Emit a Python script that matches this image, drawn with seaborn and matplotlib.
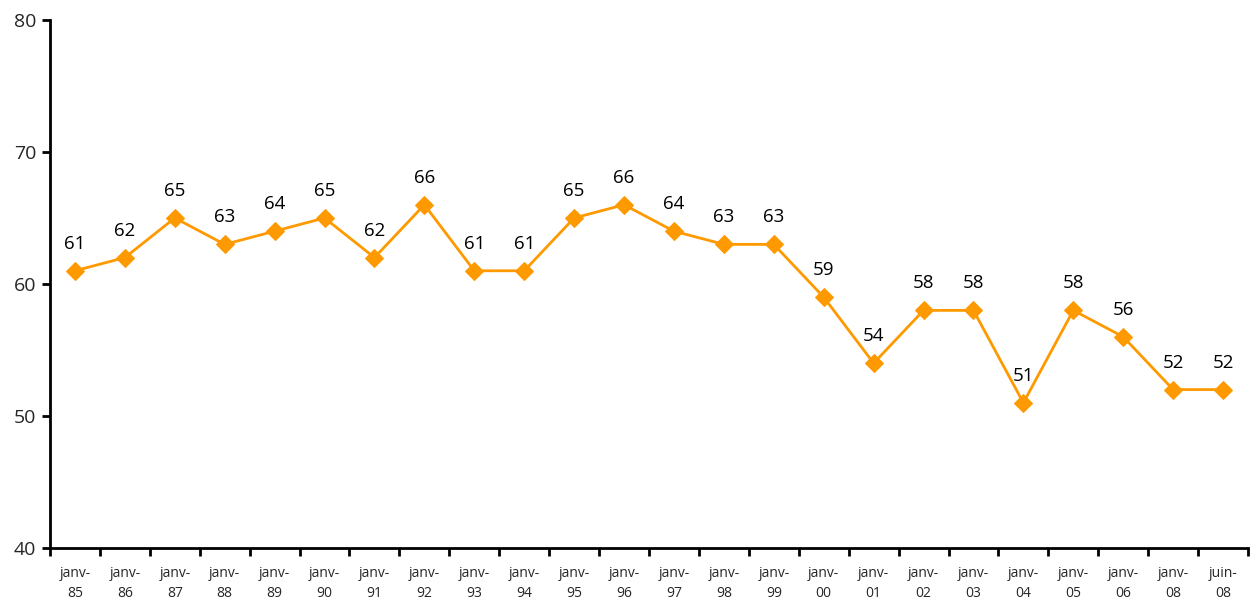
import matplotlib
matplotlib.use("Agg")
import matplotlib.pyplot as plt
import seaborn as sns
import pandas as pd
import numpy as np
from matplotlib.ticker import FixedLocator

labels = ["janv-\n85", "janv-\n86", "janv-\n87", "janv-\n88", "janv-\n89", "janv-\n90",
          "janv-\n91", "janv-\n92", "janv-\n93", "janv-\n94", "janv-\n95", "janv-\n96",
          "janv-\n97", "janv-\n98", "janv-\n99", "janv-\n00", "janv-\n01", "janv-\n02",
          "janv-\n03", "janv-\n04", "janv-\n05", "janv-\n06", "janv-\n08", "juin-\n08"]
values = [61, 62, 65, 63, 64, 65, 62, 66, 61, 61, 65, 66, 64, 63, 63, 59, 54, 58,
          58, 51, 58, 56, 52, 52]
yticks = [40, 50, 60, 70, 80]

sns.set_style("white")
plt.rcParams['font.family'] = ['Open Sans', 'DejaVu Sans']

df = pd.DataFrame({"pos": np.arange(len(values)), "val": values})

fig = plt.figure(figsize=(12.5, 6), dpi=100)
ax = fig.add_axes([0.04, 0.0867, 0.9584, 0.88])
color = "#FF9900"
sns.lineplot(data=df, x="pos", y="val", ax=ax, color=color, linewidth=2,
             marker="D", markersize=9, markeredgecolor=color, markerfacecolor=color)

for x, v in zip(df["pos"], df["val"]):
    ax.annotate(str(v), (x, v), xytext=(0, 13), textcoords="offset points",
                ha="center", va="bottom", fontsize=13.5, color="black")

ax.set_xlim(-0.5, len(values) - 0.5)
ax.set_ylim(40, 80)
ax.set_yticks(yticks)
ax.set_yticklabels([str(t) for t in yticks], fontsize=14)
ax.set_xticks(np.arange(len(values)))
ax.set_xticklabels(labels, fontsize=10, linespacing=1.45)
ax.xaxis.set_minor_locator(FixedLocator(np.arange(len(values) + 1) - 0.5))
ax.tick_params(axis="x", which="major", length=0, pad=13)
ax.tick_params(axis="x", which="minor", length=6, width=2, direction="out", color="black", bottom=True)
ax.tick_params(axis="y", length=6, width=2, direction="out", color="black", left=True, pad=4)
ax.set_xlabel("")
ax.set_ylabel("")
for s in ["top", "right"]:
    ax.spines[s].set_visible(False)
for s in ["left", "bottom"]:
    ax.spines[s].set_color("black")
    ax.spines[s].set_linewidth(2)
ax.grid(False)

fig.savefig("out.png", dpi=100)
